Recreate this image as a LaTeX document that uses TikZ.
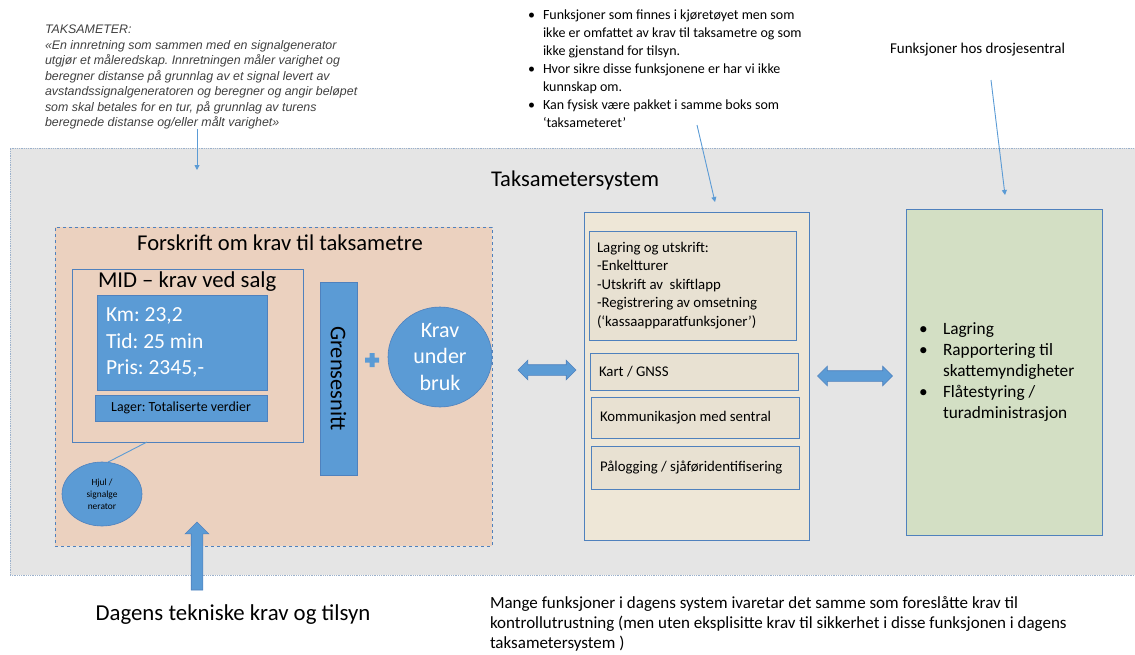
\documentclass[tikz,border=0pt]{standalone}
\usepackage{fontspec}
\setmainfont{Carlito}
\newfontfamily\arialfont{Liberation Sans}
\usetikzlibrary{shapes.geometric,shapes.arrows,arrows.meta}
\definecolor{panelgray}{HTML}{E5E5E5}
\definecolor{paneledge}{HTML}{9BB1CC}
\definecolor{peach}{HTML}{EBD1BF}
\definecolor{blueish}{HTML}{5B9BD5}
\definecolor{edgeblue}{HTML}{4F81BD}
\definecolor{beige}{HTML}{EEE7D7}
\definecolor{beigein}{HTML}{E8E1D2}
\definecolor{sage}{HTML}{D3DFC4}
\definecolor{greytext}{HTML}{404040}
\newcommand\fsz[2]{\fontsize{#1}{#2}\selectfont}
\newcommand\bul{\makebox[15pt][l]{\textbullet}}
\newcommand\bulgreen{\makebox[24pt][l]{\textbullet}}
\frenchspacing

\begin{document}
\begin{tikzpicture}[x=1pt,y=-1pt,
    box/.style={draw=edgeblue, line width=0.8pt, inner sep=0pt, outer sep=0pt, anchor=north west},
    subbox/.style={box, fill=beigein, align=flush left, inner xsep=9pt, font=\fsz{14.8}{18.5}},
    bluefill/.style={fill=blueish, draw=edgeblue, line width=0.6pt, inner sep=0pt, outer sep=0pt},
    pointer/.style={draw=blueish, line width=0.9pt, -{Triangle[width=5pt,length=5pt]}},
    plain/.style={inner sep=0pt, outer sep=0pt}]
  \useasboundingbox (0,0) rectangle (1135,654);

  % panels
  \node[box, draw=paneledge, densely dotted, fill=panelgray, minimum width=1126pt, minimum height=427pt] (system) at (10,148) {};
  \node[plain, font=\fsz{22.5}{22.5}] (systemtittel) at (575,180) {Taksametersystem};

  \node[box, dashed, fill=peach, minimum width=437pt, minimum height=319pt] (forskrift) at (55,227) {};
  \node[plain, font=\fsz{22.6}{22.6}] (forskrifttittel) at (280,243) {Forskrift om krav til taksametre};

  \node[box, minimum width=231pt, minimum height=173pt] (mid) at (72,269) {};
  \node[plain, anchor=west, font=\fsz{22.7}{22.7}] (midtittel) at (98,282) {MID – krav ved salg};
  \node[bluefill, anchor=north west, text width=152pt, inner xsep=9pt, minimum height=95pt, align=flush left,
        text=white, font=\fsz{21.5}{26.5}] (display) at (97,295) {Km: 23,2\\Tid: 25 min\\Pris: 2345,-};
  \node[bluefill, anchor=north west, minimum width=172pt, minimum height=26pt, font=\fsz{13.9}{15}] (lager) at (95,395) {Lager: Totaliserte verdier};

  \node[bluefill, rotate=-90, minimum width=193pt, minimum height=37pt, font=\fsz{22.4}{22.4}] (grense) at (338.5,378.5) {Grensesnitt};
  \fill[blueish] (365,357.5) rectangle (379,362.5) (369.5,353) rectangle (374.5,367);
  \node[ellipse, bluefill, minimum width=104pt, minimum height=100pt, align=center, text=white, font=\fsz{22}{26.7}] (krav) at (440,357) {Krav\\under\\bruk};
  \node[ellipse, bluefill, minimum width=80pt, minimum height=64pt, align=center, font=\fsz{9.4}{12}] (hjul) at (102,494) {Hjul /\\signalge\\nerator};

  \node[single arrow, bluefill, inner sep=5.5pt, shape border rotate=90, minimum height=68pt, minimum width=23pt, single arrow head extend=6pt, anchor=tail] (opp) at (197,590) {};
  \node[plain, font=\fsz{22.8}{22.8}] (dagens) at (233,615) {Dagens tekniske krav og tilsyn};

  \node[double arrow, bluefill, inner sep=5pt, minimum height=58pt, minimum width=19pt, double arrow head extend=4.5pt] (pil1) at (547,370) {};

  \node[box, fill=beige, minimum width=225pt, minimum height=328pt] (kjoretoy) at (584,212) {};
  \node[subbox, inner xsep=8pt, text width=191pt, minimum height=109pt] (lagring) at (589,231)
    {Lagring og utskrift:\\-Enkeltturer\\-Utskrift av\ \ skiftlapp\\-Registrering av omsetning\\(‘kassaapparatfunksjoner’)};
  \node[subbox, text width=190pt, minimum height=37pt] (kart) at (590,353) {Kart / GNSS};
  \node[subbox, text width=190pt, minimum height=41pt] (komm) at (591,397) {Kommunikasjon med sentral};
  \node[subbox, text width=190pt, minimum height=43pt] (palogging) at (591,446) {Pålogging / sjåføridentifisering};

  \node[double arrow, bluefill, inner sep=5pt, minimum height=75pt, minimum width=19pt, double arrow head extend=4.5pt] (pil2) at (855,376) {};

  \node[box, fill=sage, text width=170pt, inner xsep=13pt, minimum height=326pt, align=flush left, font=\fsz{17.3}{21}] (sentral) at (906,209)
    {\bulgreen Lagring\\\bulgreen Rapportering til\\\hspace*{24pt}skattemyndigheter\\\bulgreen Flåtestyring /\\\hspace*{24pt}turadministrasjon};

  % notes
  \node[plain, anchor=north west, align=left, text=greytext, font=\arialfont\itshape\fsz{12.4}{15.5}] (taks) at (45,25)
    {TAKSAMETER:\\«En innretning som sammen med en signalgenerator\\utgjør et måleredskap. Innretningen måler varighet og\\beregner distanse på grunnlag av et signal levert av\\avstandssignalgeneratoren og beregner og angir beløpet\\som skal betales for en tur, på grunnlag av turens\\beregnede distanse og/eller målt varighet»};
  \node[plain, anchor=north west, align=left, font=\fsz{14}{18}] (funk) at (528,10)
    {\bul Funksjoner som finnes i kjøretøyet men som\\\hspace*{15pt}ikke er omfattet av krav til taksametre og som\\\hspace*{15pt}ikke gjenstand for tilsyn.\\\bul Hvor sikre disse funksjonene er har vi ikke\\\hspace*{15pt}kunnskap om.\\\bul Kan fysisk være pakket i samme boks som\\\hspace*{15pt}‘taksameteret’};
  \node[plain, anchor=west, font=\fsz{15}{16}] (hos) at (890,50) {Funksjoner hos drosjesentral};
  \node[plain, anchor=north west, align=left, font=\fsz{17}{20}] (mange) at (490,596)
    {Mange funksjoner i dagens system ivaretar det samme som foreslåtte krav til\\kontrollutrustning (men uten eksplisitte krav til sikkerhet i disse funksjonen i dagens\\taksametersystem )};

  \coordinate (taksend) at (197,170);
  \coordinate (funkstart) at (697,125);
  \coordinate (funkend) at (715,202);
  \coordinate (hosstart) at (991,80);
  \coordinate (hosend) at (1005,195);
  \begin{scope}[pointer]
    \draw (taks.south -| taksend) to (taksend);
    \draw (funkstart) to (funkend);
    \draw (hosstart) to (hosend);
  \end{scope}
  \draw[blueish, line width=0.9pt] ([xshift=75pt]mid.south west) to (hjul.80);
\end{tikzpicture}
\end{document}
